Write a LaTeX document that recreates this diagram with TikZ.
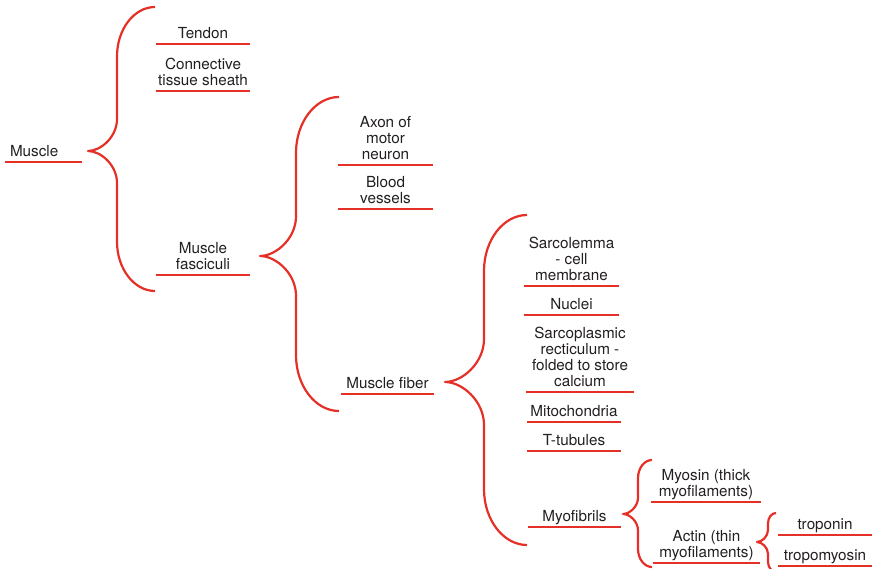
\documentclass[tikz,border=0pt]{standalone}
\usepackage{fontspec}
\setmainfont{TeX Gyre Heros}

\definecolor{mapred}{RGB}{228,48,38}
\definecolor{ink}{RGB}{35,31,32}

\tikzset{
    item/.style={anchor=south, align=center, inner xsep=0pt, inner ysep=0pt,
        font=\fontsize{15.3}{16}\selectfont, text=ink,
        execute at end node={\rule[-5.3bp]{0pt}{0pt}}},
    uline/.style={draw=mapred, line width=2.2bp},
    brace/.style={draw=mapred, line width=2.2bp, line join=round}
}

% tip x, tip y, spine x, end x, top y, bottom y
\newcommand{\curly}[6]{%
    \pgfmathsetmacro\ra{1.3*(#4-#3)}
    \pgfmathsetmacro\rb{1.1*(#3-#1)}
    \pgfmathsetmacro\ca{0.45*(#4-#3)}
    \pgfmathsetmacro\cb{0.45*(#3-#1)}
    \draw[brace] (#4,#5) .. controls (#3+\ca,#5) and (#3,#5+0.45*\ra) .. (#3,#5+\ra)
        -- (#3,#2-\rb) .. controls (#3,#2-0.45*\rb) and (#1+\cb,#2) .. (#1,#2)
        .. controls (#1+\cb,#2) and (#3,#2+0.45*\rb) .. (#3,#2+\rb)
        -- (#3,#6-\ra) .. controls (#3,#6-0.45*\ra) and (#3+\ca,#6) .. (#4,#6);
}

\begin{document}
\begin{tikzpicture}[x=1bp, y=-1bp]
    \useasboundingbox (0,0) rectangle (872,569);

    \node[item, align=left, text width=67bp, inner xsep=5bp] (muscle) at (43.5,162) {Muscle};

    \node[item, minimum width=94bp] (tendon) at (203,44) {Tendon};
    \node[item, minimum width=94bp] (sheath) at (203,91) {Connective\\tissue sheath};
    \node[item, minimum width=94bp] (fasc) at (203,275) {Muscle\\fasciculi};

    \node[item, minimum width=95bp] (axon) at (385.5,165) {Axon of\\motor\\neuron};
    \node[item, minimum width=95bp] (vessels) at (385.5,209) {Blood\\vessels};
    \node[item, minimum width=93bp] (fiber) at (387.5,394) {Muscle fiber};

    \node[item, minimum width=95bp] (sarco) at (571.5,286) {Sarcolemma\\- cell\\membrane};
    \node[item, minimum width=95bp] (nuclei) at (571.5,315) {Nuclei};
    \node[item, minimum width=108bp] (retic) at (580,392) {Sarcoplasmic\\recticulum -\\folded to store\\calcium};
    \node[item, minimum width=94bp] (mito) at (574,422) {Mitochondria};
    \node[item, minimum width=94bp] (ttub) at (574,451) {T-tubules};
    \node[item, minimum width=93bp] (myofib) at (574.5,527) {Myofibrils};

    \node[item, minimum width=110bp] (myosin) at (706,502) {Myosin (thick\\myofilaments)};
    \node[item, minimum width=107bp] (actin) at (706.5,563) {Actin (thin\\myofilaments)};

    \node[item, minimum width=94bp] (tropon) at (825,535) {troponin};
    \node[item, minimum width=94bp] (tropom) at (825,566) {tropomyosin};

    % underlines
    \foreach \n in {muscle,tendon,sheath,fasc,axon,vessels,fiber,sarco,nuclei,
        retic,mito,ttub,myofib,myosin,actin,tropon,tropom}
        \draw[uline] (\n.south west) -- (\n.south east);

    % braces
    \curly{88}{151}{117}{155}{7}{291}
    \curly{260}{256}{296}{339}{97}{411}
    \curly{445}{382}{484}{527}{215}{545}
    \curly{623}{514}{638}{652}{460}{567}
    \curly{757}{542}{768}{776}{513}{572}

\end{tikzpicture}
\end{document}
